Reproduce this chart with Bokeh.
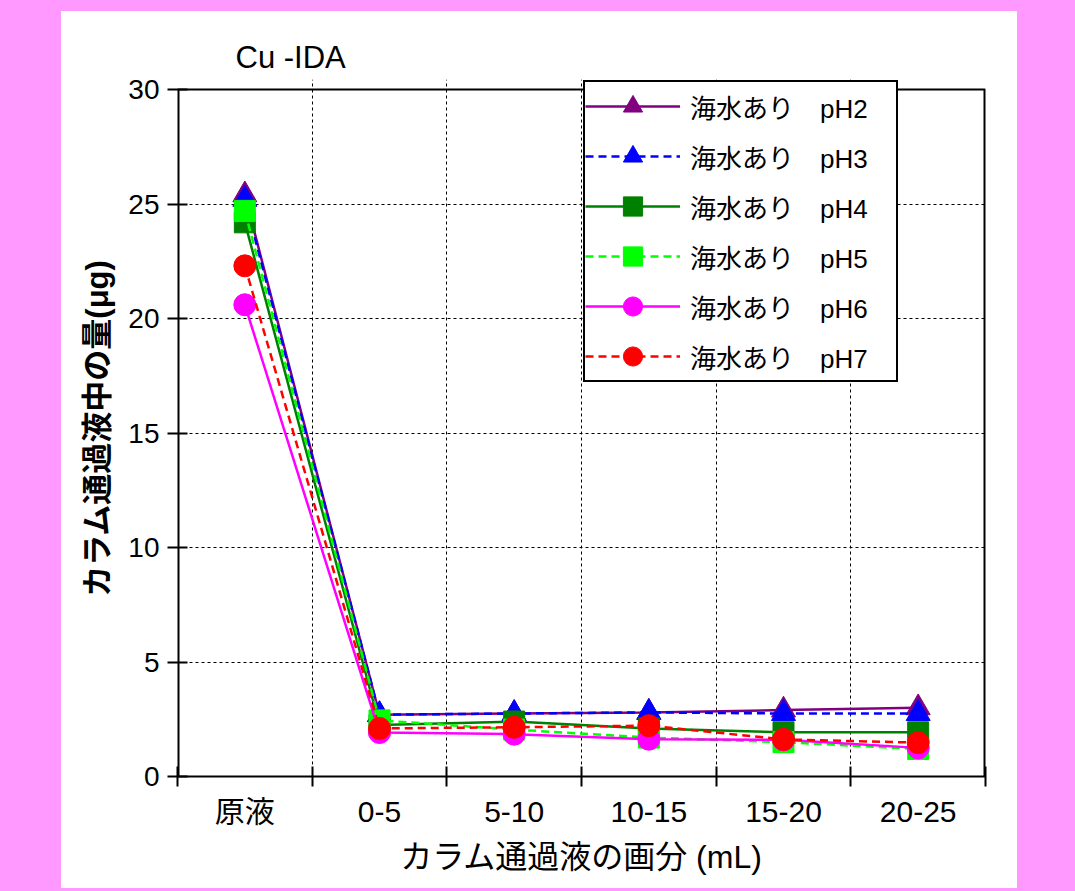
from bokeh.plotting import figure
from bokeh.models import (FixedTicker, CustomJSTickFormatter, Legend, LegendItem,
                          GlobalInlineStyleSheet)
from bokeh.embed import file_html
from bokeh.resources import INLINE

# ---- data ----
categories = ["原液", "0-5", "5-10", "10-15", "15-20", "20-25"]
ph2 = [25.4, 2.7, 2.75, 2.8, 2.9, 3.0]
ph3 = [25.2, 2.7, 2.75, 2.8, 2.75, 2.75]
ph4 = [24.2, 2.25, 2.4, 2.1, 1.93, 1.93]
ph5 = [24.7, 2.45, 2.05, 1.7, 1.5, 1.2]
ph6 = [20.6, 1.92, 1.85, 1.63, 1.6, 1.25]
ph7 = [22.3, 2.1, 2.15, 2.22, 1.62, 1.48]
series_labels = ["海水あり　pH2", "海水あり　pH3", "海水あり　pH4",
                 "海水あり　pH5", "海水あり　pH6", "海水あり　pH7"]
y_ticks = [0, 5, 10, 15, 20, 25, 30]

series = [ph2, ph3, ph4, ph5, ph6, ph7]
colors = ["#800080", "#0000FF", "#008000", "#00FF00", "#FF00FF", "#FF0000"]
markers = ["triangle", "triangle", "square", "square", "circle", "circle"]
dashes = ["solid", "8 5", "solid", "8 5", "solid", "8 5"]
msizes = [24, 24, 21, 21, 22, 22]

LAT = "Liberation Sans, Noto Sans CJK JP"

xs = [i + 0.5 for i in range(len(categories))]
x_min, x_max = 0, len(categories)
y_min, y_max = y_ticks[0], y_ticks[-1]
# frame extended a little above the top tick so the legend box (which sits
# slightly above the plot box in the original) is not clipped
frame_px = 686.0
extra_px = 10.0
y_top = y_max + (y_max - y_min) * extra_px / frame_px

p = figure(width=956, height=877, x_range=(x_min, x_max), y_range=(y_min, y_top),
           output_backend="svg", toolbar_location=None,
           min_border_left=116, min_border_right=32, min_border_top=68, min_border_bottom=112)
p.margin = (11, 0, 0, 61)
p.stylesheets = [GlobalInlineStyleSheet(css="html, body { background-color: #FF99FF; overflow: hidden; }")]
p.styles = {"background-color": "white"}
p.background_fill_color = "white"
p.border_fill_color = "white"
p.outline_line_color = None

# title
p.title.text = "Cu -IDA"
p.title.text_font = LAT
p.title.text_font_size = "31px"
p.title.text_font_style = "normal"
p.title.text_color = "black"
p.title.align = "left"
p.title.offset = 58
p.title.standoff = 10

# x axis
xa = p.xaxis[0]
xa.ticker = FixedTicker(ticks=xs, minor_ticks=list(range(len(categories) + 1)))
xa.formatter = CustomJSTickFormatter(args=dict(labels=categories),
                                     code="const i = Math.round(tick - 0.5); return (i >= 0 && i < labels.length) ? labels[i] : '';")
xa.major_tick_line_color = None
xa.major_tick_in = 0
xa.major_tick_out = 10
xa.minor_tick_line_color = "black"
xa.minor_tick_line_width = 2
xa.minor_tick_in = 10
xa.minor_tick_out = 10
xa.axis_line_width = 2
xa.major_label_text_font = LAT
xa.major_label_text_font_size = "30px"
xa.major_label_text_color = "black"
xa.major_label_standoff = 8
xa.axis_label = "カラム通過液の画分 (mL)"
xa.axis_label_text_font = LAT
xa.axis_label_text_font_size = "32px"
xa.axis_label_text_font_style = "normal"
xa.axis_label_text_color = "black"
xa.axis_label_standoff = 8

# y axis
ya = p.yaxis[0]
ya.ticker = FixedTicker(ticks=y_ticks, minor_ticks=[])
ya.major_tick_line_width = 2
ya.major_tick_in = 10
ya.major_tick_out = 10
ya.axis_line_color = None
ya.major_label_text_font = LAT
ya.major_label_text_font_size = "28px"
ya.major_label_text_color = "black"
ya.major_label_standoff = 8
ya.axis_label = "カラム通過液中の量(μg)"
ya.axis_label_text_font = LAT
ya.axis_label_text_font_size = "31px"
ya.axis_label_text_font_style = "bold"
ya.axis_label_text_color = "black"
ya.axis_label_standoff = 10

# grids
p.xgrid.ticker = FixedTicker(ticks=list(range(1, len(categories))))
p.ygrid.ticker = FixedTicker(ticks=y_ticks[1:-1])
for g in (p.xgrid[0], p.ygrid[0]):
    g.grid_line_color = "black"
    g.grid_line_dash = "3 3"
    g.grid_line_width = 1

# plot box: left axis line, top and right border (up to the 30 tick)
p.segment(x0=[x_min, x_max], y0=[y_min, y_min], x1=[x_min, x_max], y1=[y_max, y_max],
          line_color="black", line_width=4)
p.segment(x0=[x_min], y0=[y_max], x1=[x_max], y1=[y_max], line_color="black", line_width=2)

items = []
for vals, col, mk, dsh, ms, lab in zip(series, colors, markers, dashes, msizes, series_labels):
    ln = p.line(xs, vals, line_color=col, line_width=2.5, line_dash=dsh)
    sc = p.scatter(xs, vals, marker=mk, size=ms, fill_color=col, line_color=col)
    items.append(LegendItem(label=lab, renderers=[ln, sc]))

legend = Legend(items=items, location=(406, 394))
legend.label_text_font = LAT
legend.label_text_font_size = "26px"
legend.label_text_color = "black"
legend.glyph_width = 95
legend.glyph_height = 48
legend.label_height = 48
legend.label_width = 206
legend.label_standoff = 10
legend.spacing = 2
legend.padding = 0
legend.border_line_color = "black"
legend.border_line_width = 2
legend.border_line_alpha = 1.0
legend.background_fill_alpha = 1.0
p.add_layout(legend, "center")

open("out.html", "w").write(file_html(p, INLINE))
